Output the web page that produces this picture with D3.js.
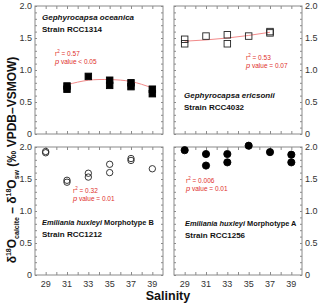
<!DOCTYPE html>
<html>
<head>
<meta charset="utf-8">
<script src="https://cdn.jsdelivr.net/npm/d3@7"></script>
<style>
  body { margin: 0; background: #fff; }
  svg { font-family: "Liberation Sans", Arial, sans-serif; }
</style>
</head>
<body>
<svg></svg>
<script>
const width = 320;
const height = 305;

// salinity values and d18O offsets
const oceanicaSal = [31, 31, 33, 35, 35, 37, 37, 39, 39];
const oceanicaVal = [0.70, 0.75, 0.90, 0.76, 0.84, 0.74, 0.80, 0.63, 0.70];
const oceanicaFitSal = [31, 33, 35, 37, 39];
const oceanicaFitVal = [0.77, 0.84, 0.85, 0.82, 0.72];

const ericsoniiSal = [29, 29, 31, 33, 33, 35, 37, 37];
const ericsoniiVal = [1.48, 1.41, 1.53, 1.55, 1.41, 1.53, 1.60, 1.58];
const ericsoniiFitSal = [29, 31, 33, 35, 37];
const ericsoniiFitVal = [1.45, 1.47, 1.50, 1.54, 1.59];

const morphBSal = [29, 29, 31, 31, 33, 33, 35, 35, 37, 37, 39];
const morphBVal = [1.93, 1.91, 1.48, 1.45, 1.59, 1.53, 1.73, 1.60, 1.82, 1.79, 1.66];

const morphASal = [29, 31, 31, 33, 33, 35, 37, 39, 39];
const morphAVal = [1.95, 1.89, 1.71, 1.89, 1.76, 2.02, 1.92, 1.88, 1.76];

const xLabels = [29, 31, 33, 35, 37, 39];
const yLabels = [0, 0.5, 1.0, 1.5, 2.0];

const pw = 128, ph = 128;

const svg = d3.select('svg')
    .attr('width', width)
    .attr('height', height);

const x = d3.scaleLinear().domain([28, 40]).range([0, pw]);
const y = d3.scaleLinear().domain([0, 2]).range([ph, 0]);

const xMinor = d3.range(29, 40, 1);
const yMinor = d3.range(0, 21, 1).map(d => d / 10);

function fmt(d) {
    return d === 0 ? '0' : d3.format('.1f')(d);
}

function makePanel(px, py, labelSide, showX) {
    const g = svg.append('g').attr('transform', `translate(${px},${py})`);

    g.append('rect')
        .attr('width', pw).attr('height', ph)
        .attr('fill', 'none').attr('stroke', '#8a8a8a').attr('stroke-width', 1);

    // inward ticks on all four sides
    const axes = [
        [d3.axisBottom(x).tickValues(xMinor), `translate(0,${ph})`, 3],
        [d3.axisTop(x).tickValues(xMinor), 'translate(0,0)', 3],
        [d3.axisLeft(y).tickValues(yMinor), 'translate(0,0)', 2],
        [d3.axisRight(y).tickValues(yMinor), `translate(${pw},0)`, 2]
    ];
    axes.forEach(a => {
        const ax = g.append('g').attr('transform', a[1])
            .call(a[0].tickSize(-a[2]).tickFormat(''));
        ax.select('.domain').remove();
        ax.selectAll('line').attr('stroke', '#8a8a8a');
    });

    const yl = g.append('g').attr('font-size', 9).attr('fill', '#333');
    yl.selectAll('text').data(yLabels).enter().append('text')
        .attr('x', labelSide === 'left' ? -3 : pw + 3)
        .attr('y', d => y(d))
        .attr('dy', '0.35em')
        .attr('text-anchor', labelSide === 'left' ? 'end' : 'start')
        .text(fmt);

    if (showX) {
        const xl = g.append('g').attr('font-size', 9).attr('fill', '#333');
        xl.selectAll('text').data(xLabels).enter().append('text')
            .attr('x', d => x(d))
            .attr('y', ph + 12)
            .attr('text-anchor', 'middle')
            .text(d => d);
    }
    return g;
}

function addLabel(g, lx, ly, italicPart, plainPart, strain, size) {
    const t = g.append('text')
        .attr('x', lx).attr('y', ly)
        .attr('font-size', size).attr('font-weight', 'bold').attr('fill', '#111');
    t.append('tspan').attr('font-style', 'italic').text(italicPart);
    if (plainPart) t.append('tspan').text(plainPart);
    g.append('text')
        .attr('x', lx).attr('y', ly + 12)
        .attr('font-size', 8).attr('font-weight', 'bold').attr('fill', '#111')
        .text(strain);
}

function addStats(g, sx, sy, r2, pText) {
    const t1 = g.append('text').attr('x', sx).attr('y', sy)
        .attr('font-size', 6.5).attr('fill', '#e0302a');
    t1.append('tspan').text('r');
    t1.append('tspan').attr('font-size', 4.5).attr('dy', -3).text('2');
    t1.append('tspan').attr('dy', 3).text(' = ' + r2);
    const t2 = g.append('text').attr('x', sx).attr('y', sy + 8)
        .attr('font-size', 6.5).attr('fill', '#e0302a');
    t2.append('tspan').attr('font-style', 'italic').attr('font-size', 7.5).text('p');
    t2.append('tspan').text(' value ' + pText);
}

function addFit(g, xs, ys) {
    const line = d3.line()
        .x((d, i) => x(xs[i]))
        .y((d, i) => y(ys[i]))
        .curve(d3.curveNatural);
    g.append('path')
        .attr('d', line(xs))
        .attr('fill', 'none')
        .attr('stroke', '#f28a8a')
        .attr('stroke-width', 1);
}

function addSquares(g, xs, ys, filled) {
    const s = 6.5;
    g.selectAll('rect.pt').data(xs).enter().append('rect')
        .attr('class', 'pt')
        .attr('x', (d, i) => x(xs[i]) - s / 2)
        .attr('y', (d, i) => y(ys[i]) - s / 2)
        .attr('width', s).attr('height', s)
        .attr('fill', filled ? '#000' : 'none')
        .attr('stroke', filled ? '#000' : '#222')
        .attr('stroke-width', 0.9);
}

function addCircles(g, xs, ys, filled) {
    g.selectAll('circle.pt').data(xs).enter().append('circle')
        .attr('class', 'pt')
        .attr('cx', (d, i) => x(xs[i]))
        .attr('cy', (d, i) => y(ys[i]))
        .attr('r', filled ? 3.6 : 3.2)
        .attr('fill', filled ? '#000' : 'none')
        .attr('stroke', filled ? '#000' : '#222')
        .attr('stroke-width', 0.9);
}

// top left
const tl = makePanel(35, 6, 'left', false);
addFit(tl, oceanicaFitSal, oceanicaFitVal);
addSquares(tl, oceanicaSal, oceanicaVal, true);
addLabel(tl, 7, 14, 'Gephyrocapsa oceanica', '', 'Strain RCC1314', 8);
addStats(tl, 20, 50, '0.57', '< 0.05');

// top right
const tr = makePanel(174, 6, 'right', false);
addFit(tr, ericsoniiFitSal, ericsoniiFitVal);
addSquares(tr, ericsoniiSal, ericsoniiVal, false);
addLabel(tr, 10, 92, 'Gephyrocapsa ericsonii', '', 'Strain RCC4032', 8);
addStats(tr, 72, 54, '0.53', '= 0.07');

// bottom left
const bl = makePanel(35, 147, 'left', true);
addCircles(bl, morphBSal, morphBVal, false);
addLabel(bl, 7, 78, 'Emiliania huxleyi', ' Morphotype B', 'Strain RCC1212', 7.4);
addStats(bl, 38, 46, '0.32', '= 0.01');

// bottom right
const br = makePanel(174, 147, 'right', true);
addCircles(br, morphASal, morphAVal, true);
addLabel(br, 11, 79, 'Emiliania huxleyi', ' Morphotype A', 'Strain  RCC1256', 7.4);
addStats(br, 12, 36, '0.006', '= 0.01');

// axis titles
svg.append('text')
    .attr('x', 168).attr('y', 300)
    .attr('text-anchor', 'middle')
    .attr('font-size', 12.5).attr('font-weight', 'bold').attr('fill', '#111')
    .text('Salinity');

const yt = svg.append('text')
    .attr('transform', 'translate(16,160) rotate(-90)')
    .attr('text-anchor', 'middle')
    .attr('font-size', 12).attr('font-weight', 'bold').attr('fill', '#111');
yt.append('tspan').text('δ');
yt.append('tspan').attr('font-size', 7).attr('dy', -5).text('18');
yt.append('tspan').attr('dy', 5).text('O');
yt.append('tspan').attr('font-size', 7).attr('dy', 3).text('calcite');
yt.append('tspan').attr('dy', -3).text(' – δ');
yt.append('tspan').attr('font-size', 7).attr('dy', -5).text('18');
yt.append('tspan').attr('dy', 5).text('O');
yt.append('tspan').attr('font-size', 7).attr('dy', 3).text('sw');
yt.append('tspan').attr('dy', -3).text(' (‰ VPDB–VSMOW)');
</script>
</body>
</html>
